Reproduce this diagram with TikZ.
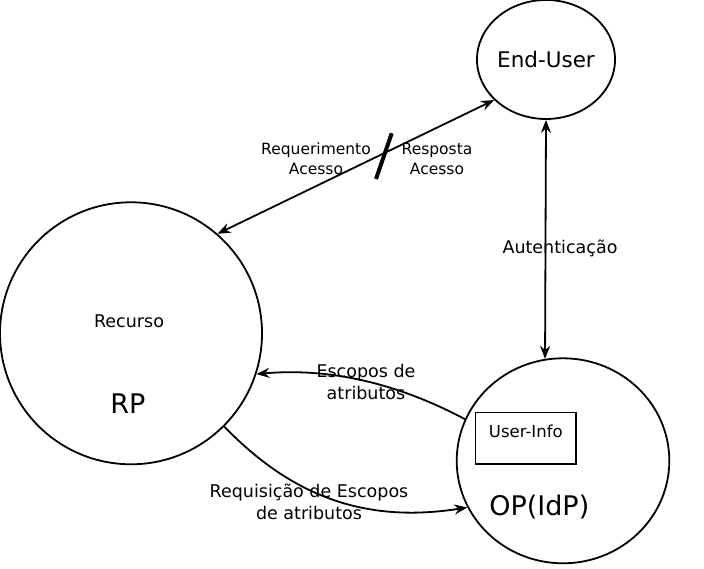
\documentclass[tikz,border=0pt]{standalone}
\usepackage{fontspec}
\setmainfont{DejaVu Sans}
\usetikzlibrary{arrows.meta}
\usetikzlibrary{positioning}
\usetikzlibrary{shapes.geometric}

\begin{document}
\begin{tikzpicture}[x=1pt,y=1pt,>={Stealth[length=13pt,width=10pt]},line width=1.8pt,
	actor/.style={ellipse, draw, inner sep=0pt},
	lbl/.style={align=center, inner sep=0pt, anchor=base},
	small/.style={font=\fontsize{15.5}{20}\selectfont},
	mid/.style={font=\fontsize{17.5}{22.5}\selectfont},
	big/.style={font=\fontsize{27}{32}\selectfont}]
	\useasboundingbox (0,0) rectangle (704,569);

	\node[actor, minimum width=135pt, minimum height=119pt, font=\fontsize{21.5}{26}\selectfont] (user) at (546,509.5) {End-User};
	\node[actor, minimum width=262pt, minimum height=262pt] (rp) at (131,235.7) {};
	\node[actor, minimum width=212.6pt, minimum height=205pt] (op) at (563,108.2) {};

	\node[lbl, mid] (recurso) at (129,241.7) {Recurso};
	\node[lbl, big] (rplabel) at (128,155.7) {RP};
	\node[lbl, big] (oplabel) at (539.3,53.3) {OP(IdP)};
	\node[draw, anchor=base, minimum width=100.6pt, text height=12pt, text depth=13.7pt, inner ysep=12.7pt, font=\fontsize{16.5}{20}\selectfont] (userinfo) at (525.8,131.7) {User-Info};

	% multi-line labels sit on their last baseline
	\node[lbl, small] (req) at (316,394) {Requerimento\\Acesso};
	\node[lbl, small] (resp) at (437,394) {Resposta\\Acesso};
	\node[lbl, mid] (auth) at (560,315.7) {Autenticação};
	\node[lbl, mid] (escopos) at (366,169) {Escopos de\\atributos};
	\node[lbl, mid] (requisicao) at (309,49) {Requisição de Escopos\\de atributos};

	\draw[<->] (user.218) -- (rp.49);
	\draw[<->] (user.south) -- (op.100);
	\draw[->] (op.157) to[out=152,in=5,looseness=0.9] (rp.-18);
	\draw[->] (rp.-45) to[out=-46,in=189] (op.206);

	\coordinate (slashtop) at (391.7,435.7);
	\coordinate (slashbot) at (376,390);
	\draw[line width=4pt] (slashtop) -- (slashbot);

\end{tikzpicture}
\end{document}
